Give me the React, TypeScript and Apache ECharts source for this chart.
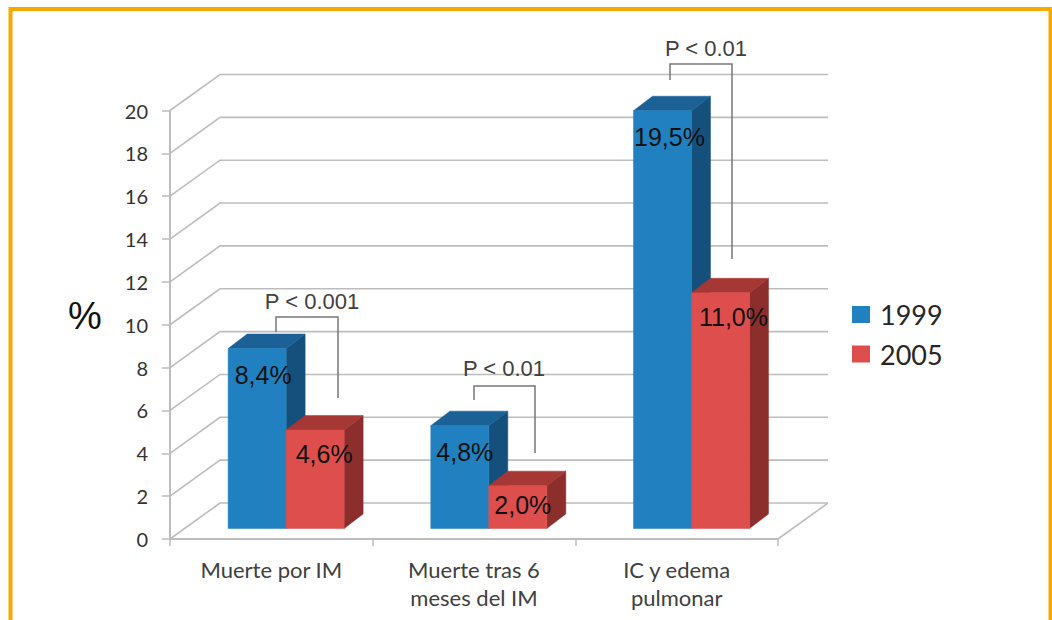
import React, { useEffect, useRef } from "react";
import * as echarts from "echarts";

// Survey years and the three outcomes compared between them
const categories = ["Muerte por IM", "Muerte tras 6\nmeses del IM", "IC y edema\npulmonar"];
const years = ["1999", "2005"];
const values1999 = [8.4, 4.8, 19.5];
const values2005 = [4.6, 2.0, 11.0];
const yTicks = [0, 2, 4, 6, 8, 10, 12, 14, 16, 18, 20];

// Three shades per series: front, top and side of each box
const BLUE = { front: "#2080C0", top: "#1B6196", side: "#15507C" };
const RED = { front: "#DE4E4C", top: "#A53734", side: "#8C2E2C" };
const GRID_COLOR = "#BDBDBD";
const LABEL_FONT = "'Liberation Sans', Arial, sans-serif";
const AXIS_FONT = "Lato, sans-serif";

// Oblique projection of the chart's depth
const WALL_DX = 50;
const WALL_DY = 36;
const BAR_INSET_X = 14.8;
const BAR_INSET_Y = 10.5;
const BAR_DEPTH_X = 19;
const BAR_DEPTH_Y = 14.5;
const BAR_BAND_SHARE = 0.2862;

const poly = (points: number[][], fill: string) => ({
  type: "polygon",
  shape: { points },
  style: { fill, stroke: fill, lineWidth: 0.5 },
});

// Draws one box of the clustered column, shifted into the chart's depth
const boxRenderer = (slot: number, shade: typeof BLUE, labelDy: number[], labelDx: number[]) =>
  (params: any, api: any) => {
    const idx = api.value(0);
    const val = api.value(1);
    const top = api.coord([idx, val]);
    const base = api.coord([idx, 0]);
    const barW = api.size([1, 0])[0] * BAR_BAND_SHARE;
    const x0 = top[0] + BAR_INSET_X + (slot - 1) * barW;
    const x1 = x0 + barW;
    const yT = top[1] - BAR_INSET_Y;
    const yB = base[1] - BAR_INSET_Y;
    const dx = BAR_DEPTH_X;
    const dy = BAR_DEPTH_Y;
    return {
      type: "group",
      children: [
        poly([[x1, yT], [x1 + dx, yT - dy], [x1 + dx, yB - dy], [x1, yB]], shade.side),
        poly([[x0, yT], [x0 + dx, yT - dy], [x1 + dx, yT - dy], [x1, yT]], shade.top),
        poly([[x0, yT], [x1, yT], [x1, yB], [x0, yB]], shade.front),
        {
          type: "text",
          z2: 10,
          x: (x0 + x1) / 2 + labelDx[idx],
          y: yT + labelDy[idx],
          style: {
            text: val.toFixed(1).replace(".", ",") + "%",
            fill: "#111",
            font: `25px ${LABEL_FONT}`,
            align: "center",
            verticalAlign: "middle",
          },
        },
      ],
    };
  };

// Side wall diagonals and back wall rules at every tick, plus the floor edge
const wallRenderer = (params: any, api: any) => {
  const v = api.value(1);
  const y = api.coord([0, v])[1];
  const left = params.coordSys.x;
  const right = left + params.coordSys.width;
  const style = { stroke: GRID_COLOR, lineWidth: 1.6, fill: "none" };
  const children: any[] = [
    {
      type: "polyline",
      shape: { points: [[left, y], [left + WALL_DX, y - WALL_DY], [right + WALL_DX, y - WALL_DY]] },
      style,
    },
  ];
  if (v === 0) {
    children.push({
      type: "line",
      shape: { x1: right, y1: y, x2: right + WALL_DX, y2: y - WALL_DY },
      style,
    });
  }
  return { type: "group", children };
};

const bracket = (points: number[][]) => ({
  type: "polyline",
  shape: { points },
  style: { stroke: "#777", lineWidth: 1.5, fill: "none" },
  z: 20,
});

const pLabel = (text: string, x: number, y: number) => ({
  type: "text",
  x,
  y,
  z: 20,
  style: {
    text,
    fill: "#404040",
    font: `22px ${LABEL_FONT}`,
    align: "center",
    verticalAlign: "middle",
  },
});

export default function App() {
  const ref = useRef<HTMLDivElement>(null);

  useEffect(() => {
    const chart = echarts.init(ref.current!, null, { renderer: "svg" });
    chart.setOption({
      animation: false,
      backgroundColor: "#ffffff",
      grid: { left: 170, right: 274, top: 110.5, bottom: 81, containLabel: false },
      xAxis: {
        type: "category",
        data: categories,
        boundaryGap: true,
        axisLine: { lineStyle: { color: GRID_COLOR, width: 2 } },
        axisTick: { show: true, length: 7, lineStyle: { color: GRID_COLOR, width: 1.5 } },
        axisLabel: {
          color: "#404040",
          fontFamily: AXIS_FONT,
          fontSize: 22,
          lineHeight: 28,
          margin: 16,
          interval: 0,
        },
      },
      yAxis: {
        type: "value",
        min: 0,
        max: 20,
        interval: 2,
        splitLine: { show: false },
        axisLine: { show: true, lineStyle: { color: GRID_COLOR, width: 2 } },
        axisTick: { show: true, length: 8, lineStyle: { color: GRID_COLOR, width: 1.5 } },
        axisLabel: {
          color: "#333333",
          fontFamily: AXIS_FONT,
          fontSize: 20,
          margin: 22,
          padding: [2, 0, 0, 0],
          formatter: (v: number) => (yTicks.includes(v) ? String(v) : ""),
        },
      },
      legend: {
        orient: "vertical",
        left: 847,
        top: 296,
        itemWidth: 18,
        itemHeight: 17,
        itemGap: 12.5,
        icon: "rect",
        selectedMode: false,
        data: years,
        textStyle: { color: "#262626", fontFamily: AXIS_FONT, fontSize: 27, padding: [0, 0, 0, 5] },
      },
      series: [
        {
          type: "custom",
          name: "walls",
          silent: true,
          z: 1,
          renderItem: wallRenderer,
          encode: { x: 0, y: 1 },
          data: yTicks.map((t) => [0, t]),
        },
        {
          type: "custom",
          name: years[0],
          z: 3,
          itemStyle: { color: BLUE.front },
          renderItem: boxRenderer(0, BLUE, [26, 26, 26], [6, 5, 7]),
          encode: { x: 0, y: 1 },
          data: values1999.map((v, i) => [i, v]),
        },
        {
          type: "custom",
          name: years[1],
          z: 4,
          itemStyle: { color: RED.front },
          renderItem: boxRenderer(1, RED, [24, 19, 24], [9, 5, 13]),
          encode: { x: 0, y: 1 },
          data: values2005.map((v, i) => [i, v]),
        },
      ],
      graphic: [
        // Page frame, open at the bottom edge
        {
          type: "polyline",
          shape: { points: [[10.5, 630], [10.5, 9], [1050.5, 9], [1050.5, 630]] },
          style: { stroke: "#F8A900", lineWidth: 4, fill: "none" },
        },
        // Value axis unit
        {
          type: "text",
          x: 85,
          y: 316,
          style: {
            text: "%",
            fill: "#111",
            font: `38px ${LABEL_FONT}`,
            align: "center",
            verticalAlign: "middle",
          },
        },
        // Significance brackets
        bracket([[276, 332], [276, 317], [338, 317], [338, 398]]),
        bracket([[474, 400], [474, 386], [535, 386], [535, 453]]),
        bracket([[670, 80], [670, 64], [732, 64], [732, 259]]),
        pLabel("P < 0.001", 312, 301),
        pLabel("P < 0.01", 504, 368),
        pLabel("P < 0.01", 706, 48),
      ],
    });
    return () => chart.dispose();
  }, []);

  return (
    <div
      ref={ref}
      style={{ position: "fixed", left: 0, top: 0, width: 1052, height: 620, background: "#fff" }}
    />
  );
}
